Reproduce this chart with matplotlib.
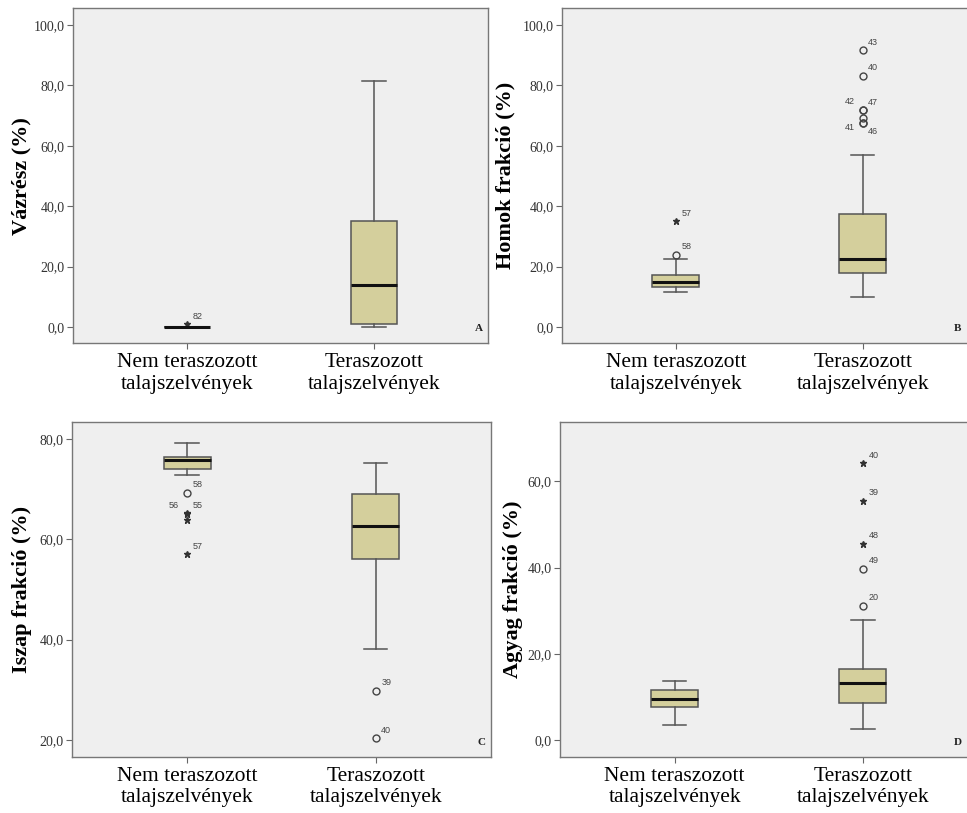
import numpy as np
import matplotlib
matplotlib.use('Agg')
import matplotlib.pyplot as plt
from matplotlib.ticker import FuncFormatter

# categories
groups = ['Nem teraszozott\ntalajszelvények', 'Teraszozott\ntalajszelvények']

# box stats per panel: [whislo, q1, med, q3, whishi] for (nem, ter)
vaz_box = [[0.0, 0.0, 0.0, 0.0, 0.0], [0.0, 0.9, 13.9, 35.1, 81.4]]
homok_box = [[11.5, 13.3, 15.0, 17.4, 22.5], [9.8, 17.8, 22.7, 37.6, 57.0]]
iszap_box = [[72.9, 74.0, 75.8, 76.5, 79.3], [38.2, 56.0, 62.6, 69.0, 75.3]]
agyag_box = [[3.5, 7.7, 9.6, 11.6, 13.8], [2.5, 8.7, 13.3, 16.6, 27.8]]

# outliers: (group index, value, case label, kind)  'o' = outlier, '*' = extreme
vaz_out = [(1, 1.0, '82', '*')]
homok_out = [(1, 24.0, '58', 'o'), (1, 35.1, '57', '*'),
             (2, 91.7, '43', 'o'), (2, 83.2, '40', 'o'),
             (2, 72.0, '42', 'o'), (2, 71.8, '47', 'o'),
             (2, 69.3, '', 'o'), (2, 67.6, '41', 'o'), (2, 67.5, '46', 'o')]
iszap_out = [(1, 69.3, '58', 'o'), (1, 65.2, '56', '*'), (1, 65.1, '55', '*'),
             (1, 63.8, '', '*'), (1, 57.0, '57', '*'),
             (2, 29.8, '39', 'o'), (2, 20.3, '40', 'o')]
agyag_out = [(2, 64.2, '40', '*'), (2, 55.5, '39', '*'), (2, 45.5, '48', '*'),
             (2, 39.7, '49', 'o'), (2, 31.1, '20', 'o')]

# where the case number sits relative to its marker (only a few differ)
label_side = {'56': (-13, 4), '42': (-13, 4), '41': (-13, -5), '46': (4, -8)}

panels = [
    ('Vázrész (%)', vaz_box, vaz_out, [0, 20, 40, 60, 80, 100], (-5.3, 105.6), 'A'),
    ('Homok frakció (%)', homok_box, homok_out, [0, 20, 40, 60, 80, 100], (-5.3, 105.6), 'B'),
    ('Iszap frakció (%)', iszap_box, iszap_out, [20, 40, 60, 80], (16.6, 83.4), 'C'),
    ('Agyag frakció (%)', agyag_box, agyag_out, [0, 20, 40, 60], (-3.9, 73.8), 'D'),
]

rects = [[0.0755, 0.578, 0.429, 0.412], [0.581, 0.578, 0.429, 0.412],
         [0.0745, 0.069, 0.433, 0.412], [0.579, 0.069, 0.432, 0.412]]
ylab_x = [-0.099, -0.111, -0.095, -0.089]
# letter x in axes fraction (right-hand panels run past the figure edge)
letter_x = [0.988, 0.962, 0.988, 0.962]

serif = ['Liberation Serif', 'DejaVu Serif']
fill = '#d4cf9c'
edge = '#555555'

fig = plt.figure(figsize=(9.67, 8.13), dpi=100)
fig.patch.set_facecolor('white')

for (ylab, box, outs, ticks, ylim, letter), rect, lx, tx in zip(panels, rects, ylab_x, letter_x):
    ax = fig.add_axes(rect)
    ax.set_facecolor('#efefef')
    stats = []
    for b in box:
        stats.append({'whislo': b[0], 'q1': b[1], 'med': b[2], 'q3': b[3], 'whishi': b[4]})
    ax.bxp(stats, positions=[1, 2], widths=0.25, patch_artist=True, showfliers=False,
           boxprops=dict(facecolor=fill, edgecolor=edge, linewidth=1.1),
           medianprops=dict(color='#111111', linewidth=2.2),
           whiskerprops=dict(color=edge, linewidth=1.1),
           capprops=dict(color=edge, linewidth=1.1), capwidths=0.125)
    for g, v, lab, kind in outs:
        if kind == 'o':
            ax.plot(g, v, 'o', ms=5, mfc='none', mec='#444444', mew=1.0)
        else:
            ax.plot(g, v, '*', ms=5, color='#333333')
        if lab:
            ax.annotate(lab, (g, v), xytext=label_side.get(lab, (4, 4)), textcoords='offset points',
                        fontsize=6.5, color='#444444', family='Liberation Sans')
    ax.set_xlim(0.39, 2.61)
    ax.set_ylim(ylim)
    ax.set_yticks(ticks)
    ax.yaxis.set_major_formatter(FuncFormatter(lambda v, p: ('%.1f' % v).replace('.', ',')))
    ax.set_xticks([1, 2])
    ax.set_xticklabels(groups, fontsize=15.5, family=serif, linespacing=1.2)
    for t in ax.get_yticklabels():
        t.set_family(serif)
        t.set_fontsize(10)
        t.set_color('#333333')
    ax.tick_params(axis='both', direction='out', length=4, color='#666666')
    ax.tick_params(axis='x', pad=3)
    ax.tick_params(axis='y', pad=2)
    ax.set_ylabel(ylab, fontsize=16, fontweight='bold', family=serif)
    ax.yaxis.set_label_coords(lx, 0.5)
    for s in ax.spines.values():
        s.set_color('#777777')
        s.set_linewidth(1.0)
    ax.text(tx, 0.03, letter, transform=ax.transAxes, ha='right', va='bottom',
            fontsize=8, fontweight='bold', family=serif, color='#222222')

fig.savefig('out.png', dpi=100)
